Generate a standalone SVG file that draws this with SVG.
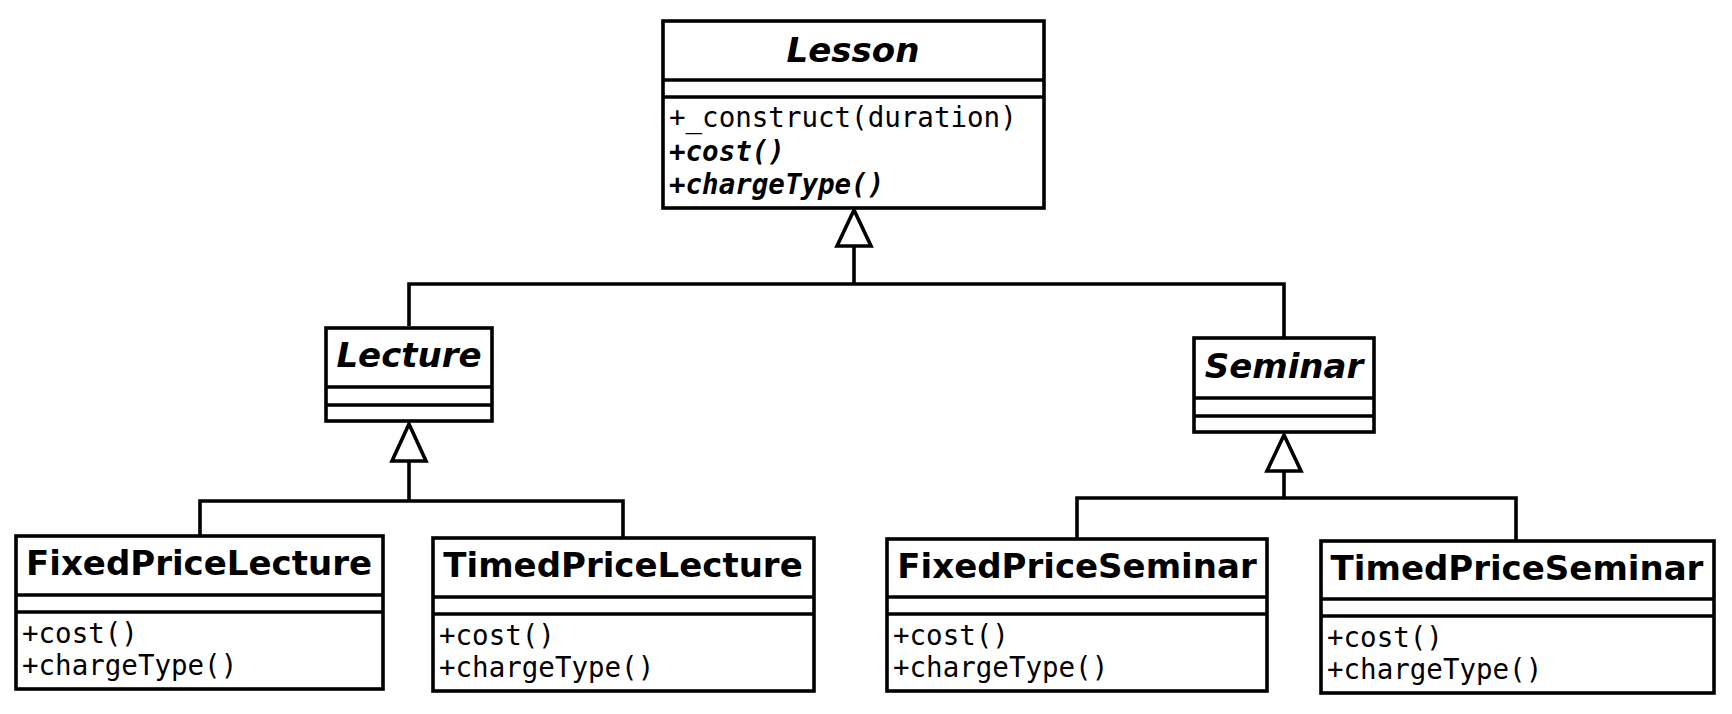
<svg xmlns="http://www.w3.org/2000/svg" width="1732" height="714" viewBox="0 0 1732 714">
<style>
.box{fill:#fff;stroke:#000;stroke-width:3.6}
.sep{stroke:#000;stroke-width:3.6}
.conn{fill:none;stroke:#000;stroke-width:3.6}
.tri{fill:#fff;stroke:#000;stroke-width:3.6;stroke-linejoin:miter}
.title{font-family:"DejaVu Sans",sans-serif;font-weight:bold;font-size:34px;text-anchor:middle}
.abs{font-style:italic}
.m{font-family:"DejaVu Sans Mono",monospace;font-size:27.5px}
.mi{font-weight:bold;font-style:italic}
</style>
<rect width="1732" height="714" fill="#fff"/>
<g id="connectors">
<polyline class="conn" points="409,326 409,284 1284,284 1284,338"/>
<line class="conn" x1="854" y1="284" x2="854" y2="246"/>
<polygon class="tri" points="854,210 837,246 871,246"/>
<polyline class="conn" points="200,536 200,501 623,501 623,538"/>
<line class="conn" x1="409" y1="501" x2="409" y2="461"/>
<polygon class="tri" points="409,424 392,461 426,461"/>
<polyline class="conn" points="1077,539 1077,498 1516,498 1516,541"/>
<line class="conn" x1="1284" y1="498" x2="1284" y2="471"/>
<polygon class="tri" points="1284,435 1267,471 1301,471"/>
</g>
<g id="Lesson">
<rect class="box" x="663" y="21" width="381" height="187"/>
<line class="sep" x1="663" y1="80" x2="1044" y2="80"/>
<line class="sep" x1="663" y1="97" x2="1044" y2="97"/>
<text class="title abs" x="853" y="62">Lesson</text>
<text class="m" x="669" y="127">+_construct(duration)</text>
<text class="m mi" x="669" y="161">+cost()</text>
<text class="m mi" x="669" y="194">+chargeType()</text>
</g>
<g id="Lecture">
<rect class="box" x="326" y="328" width="166" height="93"/>
<line class="sep" x1="326" y1="387" x2="492" y2="387"/>
<line class="sep" x1="326" y1="405" x2="492" y2="405"/>
<text class="title abs" x="409" y="367">Lecture</text>
</g>
<g id="Seminar">
<rect class="box" x="1194" y="338" width="180" height="94"/>
<line class="sep" x1="1194" y1="398" x2="1374" y2="398"/>
<line class="sep" x1="1194" y1="416" x2="1374" y2="416"/>
<text class="title abs" x="1284" y="378">Seminar</text>
</g>
<g id="FixedPriceLecture">
<rect class="box" x="16" y="536" width="367" height="153"/>
<line class="sep" x1="16" y1="595" x2="383" y2="595"/>
<line class="sep" x1="16" y1="612" x2="383" y2="612"/>
<text class="title" x="199" y="575">FixedPriceLecture</text>
<text class="m" x="22" y="643">+cost()</text>
<text class="m" x="22" y="675">+chargeType()</text>
</g>
<g id="TimedPriceLecture">
<rect class="box" x="433" y="538" width="381" height="153"/>
<line class="sep" x1="433" y1="597" x2="814" y2="597"/>
<line class="sep" x1="433" y1="614" x2="814" y2="614"/>
<text class="title" x="623" y="577">TimedPriceLecture</text>
<text class="m" x="439" y="645">+cost()</text>
<text class="m" x="439" y="677">+chargeType()</text>
</g>
<g id="FixedPriceSeminar">
<rect class="box" x="887" y="539" width="380" height="152"/>
<line class="sep" x1="887" y1="597" x2="1267" y2="597"/>
<line class="sep" x1="887" y1="614" x2="1267" y2="614"/>
<text class="title" x="1077" y="578">FixedPriceSeminar</text>
<text class="m" x="893" y="645">+cost()</text>
<text class="m" x="893" y="677">+chargeType()</text>
</g>
<g id="TimedPriceSeminar">
<rect class="box" x="1321" y="541" width="393" height="152"/>
<line class="sep" x1="1321" y1="599" x2="1714" y2="599"/>
<line class="sep" x1="1321" y1="616" x2="1714" y2="616"/>
<text class="title" x="1517" y="580">TimedPriceSeminar</text>
<text class="m" x="1327" y="647">+cost()</text>
<text class="m" x="1327" y="679">+chargeType()</text>
</g>
</svg>
